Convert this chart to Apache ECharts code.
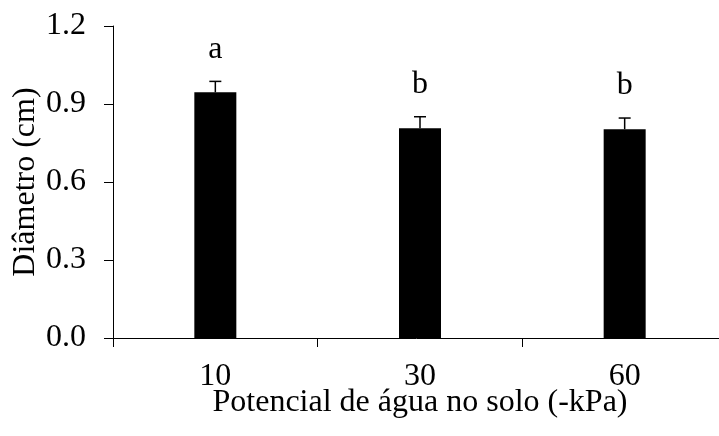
<!DOCTYPE html>
<html>
<head>
<meta charset="utf-8">
<script src="https://cdn.jsdelivr.net/npm/echarts@6/dist/echarts.min.js"></script>
<style>
html,body{margin:0;padding:0;background:#fff;}
#chart{width:719px;height:436px;}
</style>
</head>
<body>
<div id="chart"></div>
<script>
var categories = ['10', '30', '60'];
var diameter = [0.945, 0.807, 0.803];
var errors = [0.042, 0.044, 0.043];
var letters = ['a', 'b', 'b'];
var yTicks = [0, 0.3, 0.6, 0.9, 1.2];

var FONT = '"Liberation Serif", "Times New Roman", serif';
var chart = echarts.init(document.getElementById('chart'));

var errData = diameter.map(function (v, i) { return [i, v, errors[i], letters[i]]; });

chart.setOption({
  animation: false,
  backgroundColor: '#fff',
  grid: { left: 113, right: -8, top: 26, bottom: 98, containLabel: false, outerBoundsMode: 'none' },
  xAxis: {
    type: 'category',
    data: categories,
    name: 'Potencial de água no solo (-kPa)',
    nameLocation: 'middle',
    nameGap: 49,
    nameMoveOverlap: false,
    nameTextStyle: { fontFamily: FONT, fontSize: 32, color: '#000' },
    axisLine: { lineStyle: { color: '#000', width: 1 } },
    axisTick: { show: true, inside: false, length: 9, lineStyle: { color: '#000', width: 1 } },
    axisLabel: { fontFamily: FONT, fontSize: 32, color: '#000', margin: 23 },
    splitLine: { show: false }
  },
  yAxis: {
    type: 'value',
    min: yTicks[0],
    max: yTicks[yTicks.length - 1],
    interval: 0.3,
    name: 'Diâmetro (cm)',
    nameLocation: 'middle',
    nameGap: 71,
    nameRotate: 90,
    nameMoveOverlap: false,
    nameTextStyle: { fontFamily: FONT, fontSize: 32, color: '#000' },
    axisLine: { show: true, lineStyle: { color: '#000', width: 1 } },
    axisTick: { show: true, inside: false, length: 9, lineStyle: { color: '#000', width: 1 } },
    axisLabel: {
      fontFamily: FONT, fontSize: 32, color: '#000', margin: 27,
      formatter: function (v) { return v.toFixed(1); }
    },
    splitLine: { show: false }
  },
  series: [
    {
      type: 'bar',
      data: diameter,
      barWidth: 42,
      itemStyle: { color: '#000' }
    },
    {
      type: 'custom',
      data: errData,
      z: 5,
      renderItem: function (params, api) {
        var i = api.value(0), v = api.value(1), e = api.value(2);
        var base = api.coord([i, v]);
        var top = api.coord([i, v + e]);
        var half = 6;
        var st = { stroke: '#000', lineWidth: 1.5 };
        return {
          type: 'group',
          children: [
            { type: 'line', shape: { x1: base[0], y1: base[1], x2: top[0], y2: top[1] }, style: st },
            { type: 'line', shape: { x1: top[0] - half, y1: top[1], x2: top[0] + half, y2: top[1] }, style: st },
            {
              type: 'text',
              style: {
                text: letters[params.dataIndex],
                x: top[0], y: top[1] - 16,
                align: 'center', verticalAlign: 'bottom',
                font: '32px ' + FONT, fill: '#000'
              }
            }
          ]
        };
      }
    }
  ]
});
</script>
</body>
</html>
